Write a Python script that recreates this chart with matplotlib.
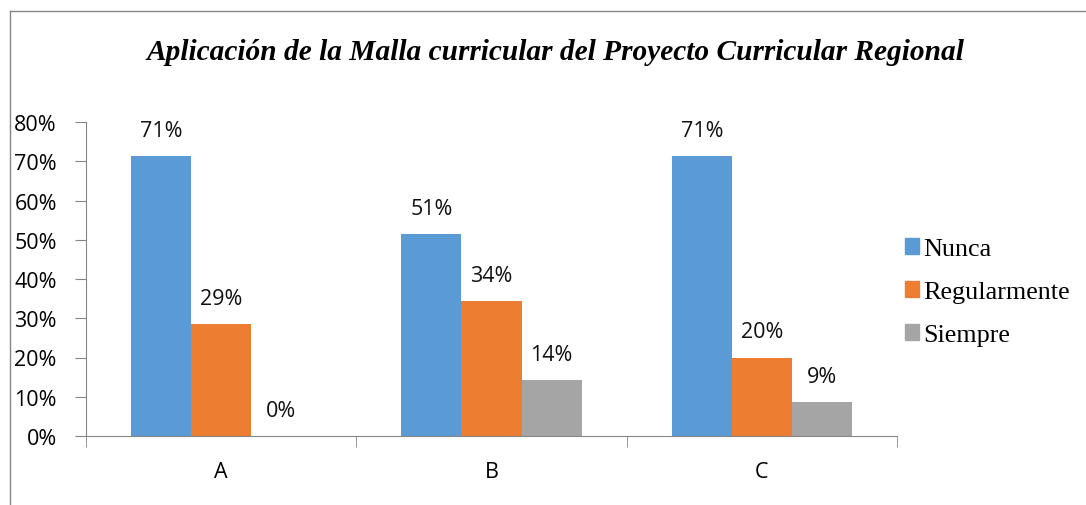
import numpy as np
import matplotlib.pyplot as plt
from matplotlib.lines import Line2D
from matplotlib.patches import Patch

# data
categories = ["A", "B", "C"]
series = ["Nunca", "Regularmente", "Siempre"]
nunca = [71.4, 51.4, 71.4]
regular = [28.6, 34.3, 20.0]
siempre = [0.0, 14.3, 8.6]
labels = [["71%", "51%", "71%"], ["29%", "34%", "20%"], ["0%", "14%", "9%"]]

colors = ["#5B9BD5", "#ED7D31", "#A5A5A5"]
sans = ["Open Sans", "DejaVu Sans"]
serif = ["Liberation Serif", "DejaVu Serif"]

fig = plt.figure(figsize=(10.86, 5.06), dpi=100)
ax = fig.add_axes([86 / 1086, 69 / 506, 811 / 1086, 314 / 506])

x = np.arange(len(categories))
w = 0.222
for i, vals in enumerate([nunca, regular, siempre]):
    pos = x + (i - 1) * w
    ax.bar(pos, vals, width=w, color=colors[i], label=series[i])
    for p, v, t in zip(pos, vals, labels[i]):
        ax.text(p, v + 6.5, t, ha="center", va="center", fontsize=15.5,
                family=sans, color="#111111")

ax.set_xlim(-0.5, 2.5)
ax.set_ylim(0, 80)
ax.set_yticks(np.arange(0, 81, 10))
ax.set_yticklabels([f"{v}%" for v in range(0, 81, 10)], family=sans, fontsize=15.5)
ax.set_xticks(x)
ax.set_xticklabels(categories, family=sans, fontsize=15.5)
ax.tick_params(axis="x", length=0, pad=18)
ax.set_xticks([-0.5, 0.5, 1.5, 2.5], minor=True)
ax.tick_params(axis="x", which="minor", length=8, color="#868686")
ax.tick_params(axis="y", length=8, color="#868686", pad=13)
for s in ["top", "right"]:
    ax.spines[s].set_visible(False)
for s in ["left", "bottom"]:
    ax.spines[s].set_color("#868686")

fig.text(555 / 1086, 1 - 52 / 506,
         "Aplicación de la Malla curricular del Proyecto Curricular Regional",
         ha="center", va="center", fontsize=21.2, family=serif,
         style="italic", weight="bold")

handles = [Patch(color=c) for c in colors]
fig.legend(handles, series, loc="center left", bbox_to_anchor=(905 / 1086, 1 - 293 / 506),
           frameon=False, prop={"family": serif, "size": 18.8}, borderpad=0, borderaxespad=0,
           handlelength=0.55, handleheight=0.55, handletextpad=0.15, labelspacing=0.8)

# chart frame (left and top edges visible)
fig.add_artist(Line2D([10 / 1086, 10 / 1086], [0, 1 - 12 / 506], color="#868686", lw=1))
fig.add_artist(Line2D([10 / 1086, 1], [1 - 12 / 506, 1 - 12 / 506], color="#868686", lw=1))

fig.savefig("out.png", dpi=100)
